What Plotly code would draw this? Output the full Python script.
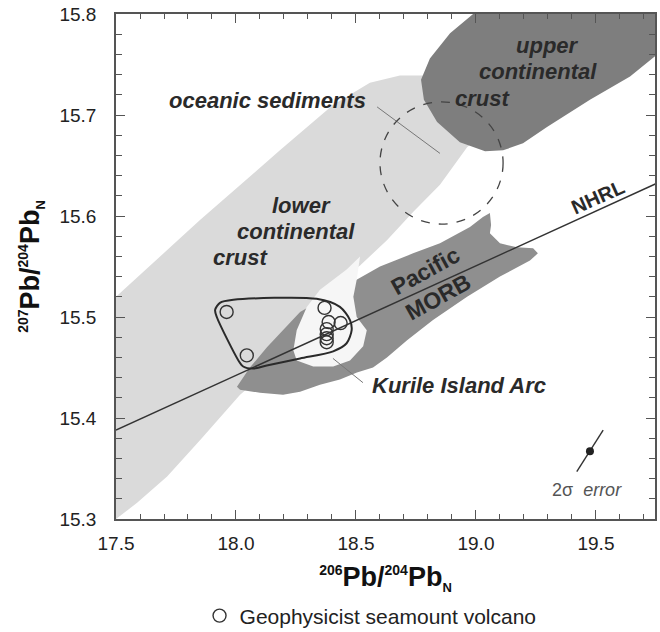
import plotly.graph_objects as go

# ---- data -------------------------------------------------------------
# Geophysicist seamount volcano samples (206Pb/204Pb, 207Pb/204Pb)
sample_x = [17.961, 18.045, 18.369, 18.386, 18.436, 18.378, 18.378, 18.378, 18.378]
sample_y = [15.505, 15.462, 15.509, 15.495, 15.494, 15.488, 15.483, 15.479, 15.475]

# field outlines (data coordinates)
lcc_x = [17.5, 17.85, 18.183, 18.404, 18.558, 18.683, 18.808, 18.975, 18.996, 18.963,
         18.85, 18.738, 18.629, 18.517, 18.404, 18.308, 18.254, 18.238, 18.142, 18.017,
         17.85, 17.713, 17.588, 17.5]
lcc_y = [15.520, 15.596, 15.665, 15.710, 15.732, 15.739, 15.739, 15.715, 15.675, 15.668,
         15.631, 15.604, 15.576, 15.551, 15.532, 15.512, 15.490, 15.467, 15.448, 15.423,
         15.378, 15.342, 15.316, 15.300]

ucc_x = [18.988, 19.76, 19.76, 19.642, 19.475, 19.296, 19.196, 19.113, 19.038, 18.933,
         18.838, 18.783, 18.771, 18.808, 18.892]
ucc_y = [15.800, 15.800, 15.761, 15.738, 15.715, 15.688, 15.672, 15.665, 15.664, 15.673,
         15.693, 15.715, 15.735, 15.756, 15.781]

morb_x = [18.004, 18.058, 18.129, 18.196, 18.267, 18.392, 18.504, 18.600, 18.738, 18.850,
          18.975, 19.029, 19.058, 19.063, 19.058, 19.100, 19.171, 19.238, 19.258, 19.225,
          19.100, 18.963, 18.821, 18.713, 18.629, 18.571, 18.504, 18.433, 18.350, 18.267,
          18.196, 18.100, 18.017]
morb_y = [15.431, 15.450, 15.470, 15.487, 15.505, 15.522, 15.537, 15.550, 15.563, 15.573,
          15.589, 15.599, 15.603, 15.591, 15.583, 15.573, 15.569, 15.568, 15.563, 15.556,
          15.540, 15.520, 15.497, 15.477, 15.460, 15.450, 15.445, 15.438, 15.433, 15.426,
          15.423, 15.425, 15.428]

kurile_x = [18.503, 18.489, 18.503, 18.545, 18.530, 18.475, 18.405, 18.322, 18.253, 18.239,
            18.253, 18.295, 18.350, 18.405, 18.461, 18.517]
kurile_y = [15.537, 15.520, 15.500, 15.487, 15.471, 15.457, 15.451, 15.451, 15.457, 15.467,
            15.487, 15.510, 15.527, 15.537, 15.547, 15.560]

# envelope around the seamount samples
env_x = [17.933, 17.989, 18.336, 18.433, 18.475, 18.482, 18.461, 18.405, 18.267, 18.128,
         18.072, 18.030, 18.010, 17.920, 17.913, 17.933]
env_y = [15.514, 15.517, 15.518, 15.510, 15.497, 15.487, 15.474, 15.466, 15.459, 15.452,
         15.449, 15.451, 15.457, 15.500, 15.507, 15.514]

# oceanic sediments field (ellipse bounds)
sed_x = [18.600, 19.113]
sed_y = [15.592, 15.713]

# Northern Hemisphere Reference Line
nhrl_x = [17.5, 19.75]
nhrl_y = [15.388, 15.632]

# 2-sigma error symbol
err_x = [19.420, 19.530]
err_y = [15.347, 15.388]
err_cx = [19.475]
err_cy = [15.367]

# leader lines
sed_lead_x = [18.588, 18.850]
sed_lead_y = [15.708, 15.662]
kur_lead_x = [18.404, 18.529]
kur_lead_y = [15.459, 15.435]

x_range = [17.5, 19.746]
y_range = [15.3, 15.8]

FONT = "Liberation Sans"
INK = "#2a2a2a"

fig = go.Figure()

def field(xs, ys, color, name):
    fig.add_trace(go.Scatter(x=xs, y=ys, mode="lines", fill="toself", fillcolor=color,
                             line=dict(width=0, color=color), name=name,
                             showlegend=False, hoverinfo="skip"))

field(lcc_x, lcc_y, "#dadada", "lower continental crust")
field(ucc_x, ucc_y, "#7e7e7e", "upper continental crust")
field(morb_x, morb_y, "#8f8f8f", "Pacific MORB")
field(kurile_x, kurile_y, "#f6f6f6", "Kurile Island Arc")

fig.add_shape(type="circle", xref="x", yref="y", x0=sed_x[0], x1=sed_x[1],
              y0=sed_y[0], y1=sed_y[1], line=dict(color="#444", width=1.3, dash="dash"))

fig.add_trace(go.Scatter(x=nhrl_x, y=nhrl_y, mode="lines", line=dict(color="#333", width=1.4),
                         showlegend=False, hoverinfo="skip", name="NHRL"))
fig.add_trace(go.Scatter(x=env_x, y=env_y, mode="lines", line=dict(color="#2a2a2a", width=2, shape="spline", smoothing=0.8),
                         showlegend=False, hoverinfo="skip"))
fig.add_trace(go.Scatter(x=sed_lead_x, y=sed_lead_y, mode="lines", line=dict(color="#777", width=1),
                         showlegend=False, hoverinfo="skip"))
fig.add_trace(go.Scatter(x=kur_lead_x, y=kur_lead_y, mode="lines", line=dict(color="#777", width=1),
                         showlegend=False, hoverinfo="skip"))

fig.add_trace(go.Scatter(x=sample_x, y=sample_y, mode="markers", name="Geophysicist seamount volcano",
                         marker=dict(symbol="circle-open", size=13, color="#333", line=dict(width=1.4))))

fig.add_trace(go.Scatter(x=err_x, y=err_y, mode="lines", line=dict(color="#333", width=1.4),
                         showlegend=False, hoverinfo="skip"))
fig.add_trace(go.Scatter(x=err_cx, y=err_cy, mode="markers", marker=dict(size=8, color="#222"),
                         showlegend=False, hoverinfo="skip"))

def label(text, x, y, size=22, angle=0, color=INK):
    fig.add_annotation(x=x, y=y, xref="x", yref="y", text=text, showarrow=False,
                       textangle=angle, font=dict(family=FONT, size=size, color=color),
                       xanchor="center", yanchor="middle")

label("<b><i>oceanic sediments</i></b>", 18.133, 15.714)
label("<b><i>upper</i></b>", 19.296, 15.769)
label("<b><i>continental</i></b>", 19.258, 15.743)
label("<b><i>crust</i></b>", 19.029, 15.716)
label("<b><i>lower</i></b>", 18.273, 15.610)
label("<b><i>continental</i></b>", 18.250, 15.585)
label("<b><i>crust</i></b>", 18.017, 15.559)
label("<b>Pacific</b>", 18.787, 15.546, size=23, angle=-29)
label("<b>MORB</b>", 18.842, 15.520, size=23, angle=-29)
label("<b>NHRL</b>", 19.508, 15.619, size=20, angle=-24)
label("<b><i>Kurile Island Arc</i></b>", 18.929, 15.432)
label("2σ  <i>error</i>", 19.463, 15.329, size=18, color="#555")

axis_common = dict(showline=True, linecolor="#555", linewidth=1.5, mirror="ticks",
                   ticks="inside", tickcolor="#555", tickwidth=1.2, ticklen=9,
                   showgrid=False, zeroline=False,
                   tickfont=dict(family=FONT, size=19, color="#222"))

sup = '<span style="font-size:14px">{}</span>'
title_txt = ("<b><sup>" + sup + "</sup>Pb/<sup>" + sup + "</sup>Pb<sub>"
             '<span style="font-size:13px">N</span></sub></b>')

fig.update_xaxes(range=x_range, dtick=0.5, tick0=17.5, tickformat=".1f",
                 minor=dict(dtick=0.1, ticks="inside", ticklen=5, tickcolor="#555", tickwidth=1.1),
                 title=dict(text=title_txt.format("206", "204"),
                            font=dict(family=FONT, size=27, color="#111")),
                 ticklabelstandoff=6, **axis_common)
fig.update_yaxes(range=y_range, dtick=0.1, tick0=15.3, tickformat=".1f",
                 minor=dict(dtick=0.02, ticks="inside", ticklen=6, tickcolor="#555", tickwidth=1.1),
                 title=dict(text=title_txt.format("207", "204"), standoff=12,
                            font=dict(family=FONT, size=27, color="#111")),
                 ticklabelstandoff=14, **axis_common)

fig.update_layout(width=660, height=632,
                  margin=dict(l=116, r=5, t=14, b=113, autoexpand=False),
                  paper_bgcolor="white", plot_bgcolor="white",
                  showlegend=True,
                  legend=dict(x=0.155, y=-0.192, xanchor="left", yanchor="middle",
                              orientation="h",
                              font=dict(family=FONT, size=21, color="#222"),
                              bgcolor="rgba(0,0,0,0)"))

fig.write_html("out.html")
